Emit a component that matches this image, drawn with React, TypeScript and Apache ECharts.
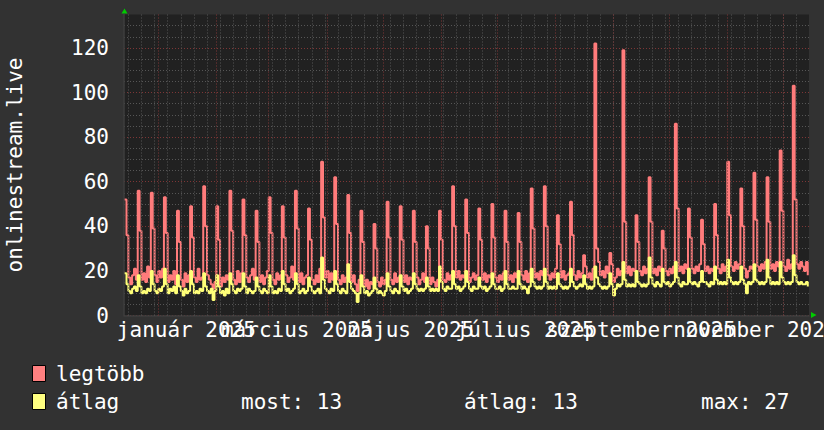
import { useEffect, useRef } from 'react';
import * as echarts from 'echarts';

const DAY = 86400000;
const axisStart = Date.UTC(2024, 11, 13, 16);
const axisEnd = Date.UTC(2025, 11, 14, 16);
const firstDay = Date.UTC(2024, 11, 14);
const firstMonday = Date.UTC(2024, 11, 16);

// daily values, one row per week (Sat..Fri)
const legtobbWeeks: number[][] = [
  [52, 36, 17, 14, 18, 21, 16],
  [56, 38, 16, 19, 15, 22, 17],
  [55, 39, 18, 15, 20, 17, 21],
  [53, 37, 15, 18, 16, 20, 14],
  [47, 33, 16, 13, 19, 15, 18],
  [49, 35, 17, 15, 21, 16, 17],
  [58, 40, 18, 16, 14, 12, 15],
  [49, 34, 13, 17, 15, 18, 16],
  [56, 38, 16, 14, 20, 15, 19],
  [52, 36, 17, 15, 18, 21, 16],
  [47, 33, 15, 18, 14, 17, 20],
  [53, 37, 16, 14, 19, 16, 18],
  [49, 35, 18, 15, 17, 22, 16],
  [56, 39, 15, 19, 14, 17, 18],
  [48, 34, 16, 14, 18, 15, 21],
  [69, 44, 17, 20, 15, 19, 16],
  [62, 41, 16, 14, 18, 15, 17],
  [54, 37, 15, 18, 14, 11, 16],
  [47, 33, 13, 16, 12, 15, 14],
  [41, 30, 15, 13, 17, 14, 16],
  [51, 35, 16, 14, 19, 15, 17],
  [49, 34, 15, 18, 14, 17, 16],
  [47, 33, 17, 14, 16, 19, 15],
  [40, 30, 14, 17, 15, 13, 16],
  [47, 34, 16, 15, 19, 16, 18],
  [58, 40, 17, 20, 16, 18, 17],
  [52, 37, 15, 17, 19, 16, 18],
  [48, 34, 16, 19, 15, 18, 17],
  [50, 35, 17, 15, 18, 16, 19],
  [47, 33, 16, 18, 15, 19, 17],
  [46, 33, 18, 16, 20, 15, 19],
  [57, 39, 17, 19, 16, 20, 18],
  [58, 40, 18, 16, 19, 17, 21],
  [45, 32, 17, 20, 16, 18, 19],
  [51, 36, 18, 16, 20, 17, 19],
  [27, 22, 17, 19, 16, 21, 122],
  [30, 24, 18, 20, 17, 22, 19],
  [28, 23, 15, 17, 21, 18, 20],
  [119, 42, 19, 22, 18, 21, 20],
  [45, 33, 20, 18, 22, 19, 21],
  [62, 42, 19, 21, 18, 22, 20],
  [38, 30, 20, 18, 21, 19, 22],
  [86, 48, 20, 22, 19, 23, 21],
  [48, 35, 21, 19, 22, 20, 23],
  [43, 32, 20, 22, 19, 21, 20],
  [50, 36, 21, 19, 23, 20, 22],
  [69, 45, 22, 20, 24, 21, 23],
  [57, 40, 21, 17, 20, 22, 21],
  [64, 43, 22, 20, 23, 21, 24],
  [62, 42, 21, 23, 20, 24, 22],
  [74, 47, 22, 20, 25, 21, 23],
  [103, 52, 23, 21, 24, 22, 20],
  [24, 18],
];

const atlagWeeks: number[][] = [
  [19, 14, 11, 10, 12, 13, 11],
  [18, 13, 10, 11, 10, 12, 11],
  [20, 14, 11, 10, 12, 11, 13],
  [21, 14, 10, 12, 11, 13, 10],
  [18, 13, 11, 9, 12, 10, 11],
  [20, 14, 10, 11, 10, 12, 11],
  [19, 13, 11, 10, 12, 7, 11],
  [18, 13, 10, 11, 9, 12, 10],
  [19, 14, 11, 10, 12, 11, 12],
  [19, 13, 10, 12, 11, 10, 11],
  [17, 13, 11, 10, 12, 11, 10],
  [18, 13, 10, 11, 10, 12, 11],
  [20, 14, 11, 12, 10, 11, 12],
  [19, 14, 10, 11, 12, 10, 11],
  [17, 13, 11, 10, 11, 12, 10],
  [26, 16, 12, 11, 10, 12, 11],
  [20, 14, 11, 10, 12, 11, 10],
  [23, 15, 12, 11, 10, 6, 10],
  [18, 13, 10, 11, 9, 10, 11],
  [17, 12, 10, 11, 10, 9, 11],
  [19, 13, 11, 10, 12, 11, 10],
  [18, 13, 11, 12, 10, 11, 12],
  [19, 14, 12, 11, 12, 11, 12],
  [17, 13, 11, 12, 11, 12, 11],
  [22, 15, 12, 11, 13, 12, 12],
  [20, 14, 12, 13, 11, 12, 13],
  [20, 15, 12, 11, 13, 12, 12],
  [17, 13, 12, 13, 11, 12, 13],
  [19, 14, 12, 12, 13, 11, 12],
  [20, 14, 12, 12, 13, 12, 12],
  [20, 14, 12, 13, 12, 10, 13],
  [21, 15, 13, 12, 13, 12, 13],
  [21, 15, 12, 13, 12, 13, 12],
  [19, 14, 13, 12, 13, 12, 13],
  [21, 15, 13, 12, 13, 14, 13],
  [18, 14, 12, 13, 12, 13, 22],
  [17, 14, 13, 12, 13, 12, 13],
  [19, 14, 9, 12, 14, 13, 14],
  [24, 16, 13, 14, 13, 14, 13],
  [20, 15, 14, 13, 14, 13, 14],
  [26, 17, 14, 13, 15, 14, 13],
  [21, 15, 14, 15, 13, 14, 15],
  [24, 17, 14, 13, 15, 14, 14],
  [21, 15, 14, 15, 14, 13, 15],
  [20, 15, 15, 14, 13, 15, 14],
  [22, 16, 14, 15, 14, 15, 14],
  [25, 17, 15, 14, 15, 14, 15],
  [22, 16, 14, 10, 15, 14, 15],
  [23, 16, 15, 14, 15, 14, 15],
  [25, 17, 14, 15, 14, 15, 14],
  [24, 17, 15, 14, 15, 14, 15],
  [27, 18, 15, 14, 15, 14, 14],
  [15, 13],
];

const monthLabels = ['január 2025', 'március 2025', 'május 2025', 'július 2025', 'szeptember 2025', 'november 2025'];
const monthLabelIndex = [0, 2, 4, 6, 8, 10];
const gridMonths = [0, 1, 2, 3, 4, 5, 6, 7, 8, 9, 10, 11];
const yLabelStep = 20;
const seriesNames = ['legtöbb', 'átlag'];
const legendStats = ['most: 13', 'átlag: 13', 'max: 27'];
const yTitle = 'onlinestream.live';

const RED = '#ff7b7b';
const YELLOW = '#ffff78';
const FONT = "'DejaVu Sans Mono', monospace";

function toSeries(weeks: number[][]) {
  return weeks.flat().map((v, i) => [firstDay + i * DAY, v]);
}

export default function App() {
  const ref = useRef<HTMLDivElement>(null);
  useEffect(() => {
    if (!ref.current) return;
    const chart = echarts.init(ref.current, null, { renderer: 'svg' });

    const labelValues = monthLabelIndex.map((m) => Date.UTC(2025, m, 1) + 15 * DAY);
    const mondays: number[] = [];
    for (let t = firstMonday; t < axisEnd; t += 7 * DAY) mondays.push(t);
    const monthStarts = gridMonths.map((m) => Date.UTC(2025, m, 1));

    const minor = { color: '#565656', width: 1, type: [1, 2] as any };
    const major = { color: '#7e3636', width: 1, type: [1, 2] as any };

    const legendText = (text: string, x: number, y: number) => ({
      type: 'text',
      x,
      y,
      silent: true,
      style: { text, fill: '#ffffff', font: `21px ${FONT}`, verticalAlign: 'middle' },
    });

    const baseGraphics: any[] = [
      {
        type: 'text',
        x: 14.5,
        y: 165,
        rotation: Math.PI / 2,
        silent: true,
        style: { text: yTitle, fill: '#ffffff', font: `21px ${FONT}`, align: 'center', verticalAlign: 'middle' },
      },
      { type: 'polygon', silent: true, shape: { points: [[121.5, 13.5], [127.5, 13.5], [124.5, 8.5]] }, style: { fill: '#00cc00' } },
      { type: 'polygon', silent: true, shape: { points: [[811, 312], [811, 318], [816.5, 315]] }, style: { fill: '#00cc00' } },
      { type: 'rect', silent: true, shape: { x: 32.5, y: 365.5, width: 13, height: 16 }, style: { fill: '#ff8080', stroke: '#000000', lineWidth: 1 } },
      { type: 'rect', silent: true, shape: { x: 32.5, y: 393.5, width: 13, height: 16 }, style: { fill: '#ffff80', stroke: '#000000', lineWidth: 1 } },
      legendText(seriesNames[0], 56, 373.5),
      legendText(seriesNames[1], 56, 401.5),
      legendText(legendStats[0], 241, 401.5),
      legendText(legendStats[1], 464, 401.5),
      legendText(legendStats[2], 701, 401.5),
    ];

    chart.setOption({
      animation: false,
      backgroundColor: '#323232',
      grid: {
        left: 124,
        top: 14.5,
        width: 685,
        height: 301,
        show: true,
        backgroundColor: '#212121',
        borderWidth: 0,
        containLabel: false,
        outerBoundsMode: 'none',
      },
      xAxis: {
        type: 'value',
        min: axisStart,
        max: axisEnd,
        splitLine: { show: false },
        axisTick: { show: false },
        axisLine: { show: true, lineStyle: { color: '#3e3e3e', width: 1.5 } },
        axisLabel: { show: false },
      },
      yAxis: {
        type: 'value',
        min: 0,
        max: 135,
        interval: 5,
        axisLine: { show: true, lineStyle: { color: '#3e3e3e', width: 1.5 } },
        axisTick: { show: false },
        axisLabel: {
          color: '#ffffff',
          fontFamily: FONT,
          fontSize: 21,
          margin: 15,
          formatter: (v: number) => (v % yLabelStep === 0 ? String(v) : ''),
        },
        splitLine: {
          show: true,
          showMinLine: true,
          showMaxLine: false,
          lineStyle: { color: [major.color, minor.color, minor.color, minor.color], width: 1, type: [1, 2] },
        },
      },
      series: [
        {
          type: 'line',
          name: 'grid',
          z: 1,
          silent: true,
          data: [[axisStart, 0]],
          showSymbol: false,
          lineStyle: { opacity: 0 },
          markLine: {
            silent: true,
            symbol: ['none', 'none'],
            label: { show: false },
            animation: false,
            data: [
              ...mondays.map((t) => ({ xAxis: t, lineStyle: minor })),
              ...monthStarts.map((t) => ({ xAxis: t, lineStyle: major })),
            ],
          },
        },
        {
          type: 'line',
          name: seriesNames[0],
          z: 3,
          step: 'end',
          showSymbol: false,
          clip: true,
          data: toSeries(legtobbWeeks),
          lineStyle: { color: RED, width: 2 },
          itemStyle: { color: RED },
        },
        {
          type: 'line',
          name: seriesNames[1],
          z: 4,
          step: 'end',
          showSymbol: false,
          clip: true,
          data: toSeries(atlagWeeks),
          lineStyle: { color: YELLOW, width: 2 },
          itemStyle: { color: YELLOW },
        },
      ],
      graphic: baseGraphics,
    });

    // x-axis month labels placed through the axis scale
    const labelGraphics = labelValues.map((v, i) => {
      const px = chart.convertToPixel({ xAxisIndex: 0 }, v) as number;
      return {
        type: 'text',
        x: px,
        y: 330,
        silent: true,
        style: { text: monthLabels[i], fill: '#ffffff', font: `21px ${FONT}`, align: 'center', verticalAlign: 'middle' },
      };
    });
    chart.setOption({ graphic: [...baseGraphics, ...labelGraphics] });

    return () => chart.dispose();
  }, []);
  return <div ref={ref} style={{ position: 'fixed', left: 0, top: 0, width: 824, height: 430 }} />;
}
